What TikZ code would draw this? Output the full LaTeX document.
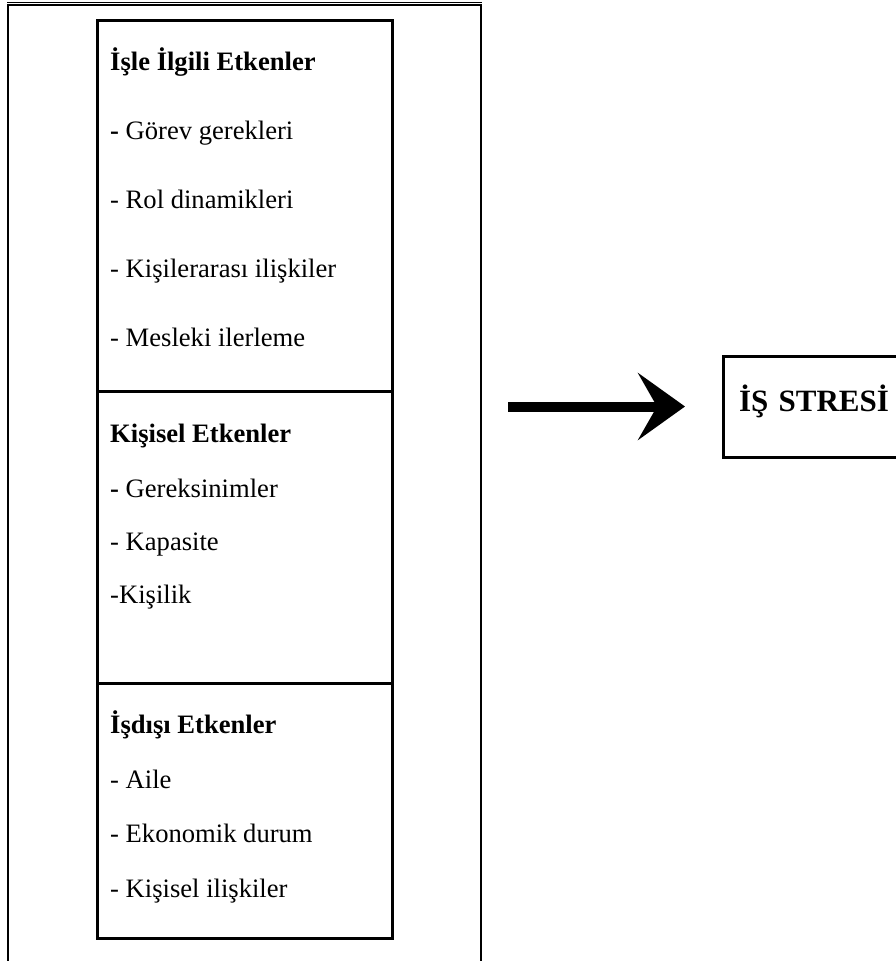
\documentclass[tikz,border=0pt]{standalone}
\usepackage{fontspec}
\setmainfont{Liberation Serif}
\usetikzlibrary{arrows.meta,positioning}

\tikzset{
  factorbox/.style={draw,line width=3pt,minimum width=295pt,inner sep=0pt,outer sep=0pt},
  head/.style={font=\bfseries\fontsize{26.6}{30}\selectfont,anchor=base west,inner sep=0pt},
  item/.style={font=\fontsize{26.6}{30}\selectfont,anchor=base west,inner sep=0pt},
  stressbox/.style={draw,line width=3pt,outer sep=0pt,inner xsep=16pt,text width=210pt,
    align=left,minimum height=101pt,text height=22pt,text depth=13pt,
    font=\bfseries\fontsize{31}{36}\selectfont},
}

\begin{document}
\begin{tikzpicture}[x=1pt,y=-1pt,>=Stealth]
  \useasboundingbox (0,0) rectangle (896,961);
  % outer frame, open at the bottom
  \coordinate (frameR) at (481,0);
  \draw[line width=2pt] (8,975) -- (8,4.5) -- (481,4.5) -- (481,975);
  \draw[line width=1pt] (7,2) -- (482,2);
  % stacked factor boxes
  \node[factorbox,minimum height=371pt,anchor=north west] (work) at (97,20) {};
  \node[factorbox,minimum height=292pt,below=0pt of work] (personal) {};
  \node[factorbox,minimum height=255pt,below=0pt of personal] (outside) {};
  % work related factors
  \node[head] (workhead) at (110,70) {İşle İlgili Etkenler};
  \foreach \y/\txt [count=\i] in {139/\textbf{-} Görev gerekleri,208/- Rol dinamikleri,
      277/- Kişilerarası ilişkiler,346/- Mesleki ilerleme}
    \node[item] (work\i) at (110,\y) {\txt};
  % personal factors
  \node[head] (personalhead) at (110,442) {Kişisel Etkenler};
  \foreach \y/\txt [count=\i] in {497/\textbf{-} Gereksinimler,550/- Kapasite,603/-Kişilik}
    \node[item] (personal\i) at (110,\y) {\txt};
  % non-work factors
  \node[head] (outsidehead) at (110,733) {İşdışı Etkenler};
  \foreach \y/\txt [count=\i] in {788/- Aile,842/- Ekonomik durum,897/- Kişisel ilişkiler}
    \node[item] (outside\i) at (110,\y) {\txt};
  % result
  \node[stressbox,anchor=north west] (stress) at (723,356) {İŞ STRESİ};
  \draw[line width=10pt,shorten <=27pt,shorten >=38pt,
        -{Stealth[length=47pt,width=67pt,inset=19pt]}] (frameR |- stress.west) -- (stress.west);
\end{tikzpicture}
\end{document}
